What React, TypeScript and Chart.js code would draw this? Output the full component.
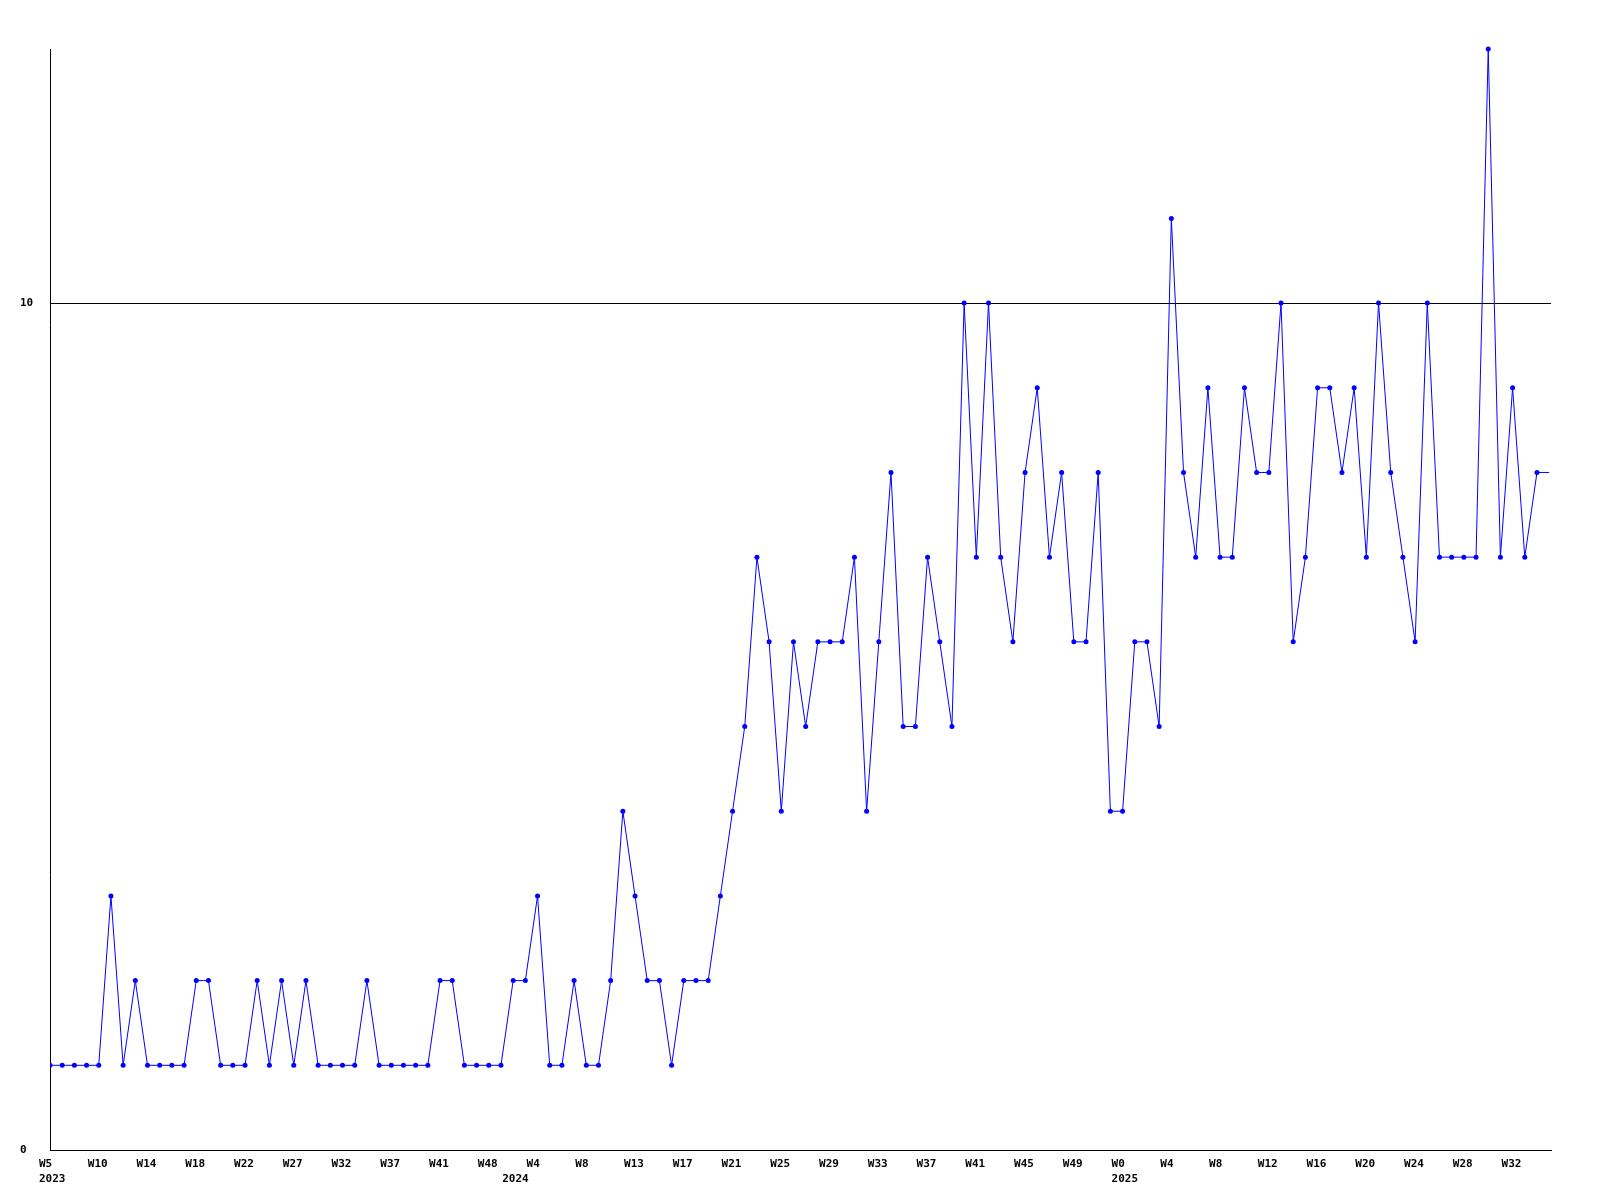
import React, { useEffect, useRef } from 'react';
import { Chart, registerables } from 'chart.js';

Chart.register(...registerables);

// Weekly counts, one per week shown on the axis (last entry is the following week, off the right edge)
const weekValues = [
  1, 1, 1, 1, 1, 3, 1, 2, 1, 1,
  1, 1, 2, 2, 1, 1, 1, 2, 1, 2,
  1, 2, 1, 1, 1, 1, 2, 1, 1, 1,
  1, 1, 2, 2, 1, 1, 1, 1, 2, 2,
  3, 1, 1, 2, 1, 1, 2, 4, 3, 2,
  2, 1, 2, 2, 2, 3, 4, 5, 7, 6,
  4, 6, 5, 6, 6, 6, 7, 4, 6, 8,
  5, 5, 7, 6, 5, 10, 7, 10, 7, 6,
  8, 9, 7, 8, 6, 6, 8, 4, 4, 6,
  6, 5, 11, 8, 7, 9, 7, 7, 9, 8,
  8, 10, 6, 7, 9, 9, 8, 9, 7, 10,
  8, 7, 6, 10, 7, 7, 7, 7, 13, 7,
  9, 7, 8, 8,
];

// Week tick labels and the data index they sit at
const weekTickPositions = [
  0, 4, 8, 12, 16, 20, 24, 28, 32, 36,
  40, 44, 48, 52, 56, 60, 64, 68, 72, 76,
  80, 84, 88, 92, 96, 100, 104, 108, 112, 116, 120,
];
const weekTickLabels = [
  'W5', 'W10', 'W14', 'W18', 'W22', 'W27', 'W32', 'W37', 'W41', 'W48',
  'W4', 'W8', 'W13', 'W17', 'W21', 'W25', 'W29', 'W33', 'W37', 'W41',
  'W45', 'W49', 'W0', 'W4', 'W8', 'W12', 'W16', 'W20', 'W24', 'W28', 'W32',
];

// Year labels (second row) and the data index they sit at
const yearTickPositions = [0, 38, 88];
const yearTickLabels = ['2023', '2024', '2025'];

const yTickValues = [0, 10];
const Y_MAX = 13;
const X_MAX = 123.15;
const LAST_MARKED = 122;

const allTickPositions = Array.from(new Set([...weekTickPositions, ...yearTickPositions])).sort(
  (a, b) => a - b
);

export default function App() {
  const ref = useRef<HTMLCanvasElement>(null);

  useEffect(() => {
    document.body.style.margin = '0';
    const font = {
      family: "'DejaVu Sans Mono', monospace",
      size: 11,
      weight: 'bold' as const,
      lineHeight: 1.33,
    };
    const chart = new Chart(ref.current as HTMLCanvasElement, {
      type: 'line',
      data: {
        datasets: [
          {
            data: weekValues.map((v, i) => ({ x: i, y: v })),
            borderColor: '#0000ff',
            borderWidth: 1,
            tension: 0,
            fill: false,
            pointStyle: 'circle',
            pointRadius: (c: any) => (c.dataIndex <= LAST_MARKED ? 2.5 : 0),
            pointHoverRadius: 2.5,
            pointBackgroundColor: '#0000ff',
            pointBorderColor: '#0000ff',
            pointBorderWidth: 0,
            clip: { left: 0, right: 0, top: 6, bottom: 6 } as any,
          },
        ],
      },
      options: {
        responsive: false,
        animation: false,
        events: [],
        layout: { padding: { left: 20, top: 49, right: 49, bottom: 5 } },
        plugins: {
          legend: { display: false },
          tooltip: { enabled: false },
          title: { display: false },
        },
        scales: {
          x: {
            type: 'linear',
            min: 0,
            max: X_MAX,
            grid: { display: false },
            border: { display: true, color: '#000000', width: 1 },
            afterBuildTicks: (s: any) => {
              s.ticks = allTickPositions.map((v) => ({ value: v }));
            },
            afterFit: (s: any) => {
              s.height = 45;
            },
            ticks: {
              autoSkip: false,
              maxRotation: 0,
              minRotation: 0,
              align: 'start',
              labelOffset: -11,
              padding: -1,
              color: '#000000',
              font,
              callback: (v: any) => {
                const wi = weekTickPositions.indexOf(v);
                const yi = yearTickPositions.indexOf(v);
                const week = wi >= 0 ? weekTickLabels[wi] : '';
                if (yi >= 0) return [week, yearTickLabels[yi]];
                return week;
              },
            },
          },
          y: {
            type: 'linear',
            min: 0,
            max: Y_MAX,
            grid: { color: '#000000', lineWidth: 1, drawTicks: false },
            border: { display: true, color: '#000000', width: 1 },
            afterBuildTicks: (s: any) => {
              s.ticks = yTickValues.map((v) => ({ value: v }));
            },
            afterFit: (s: any) => {
              s.width = 30;
            },
            ticks: {
              crossAlign: 'far',
              padding: 17,
              color: '#000000',
              font,
            },
          },
        },
      },
    } as any);
    return () => chart.destroy();
  }, []);

  return <canvas ref={ref} width={1600} height={1200} style={{ display: 'block' }} />;
}
